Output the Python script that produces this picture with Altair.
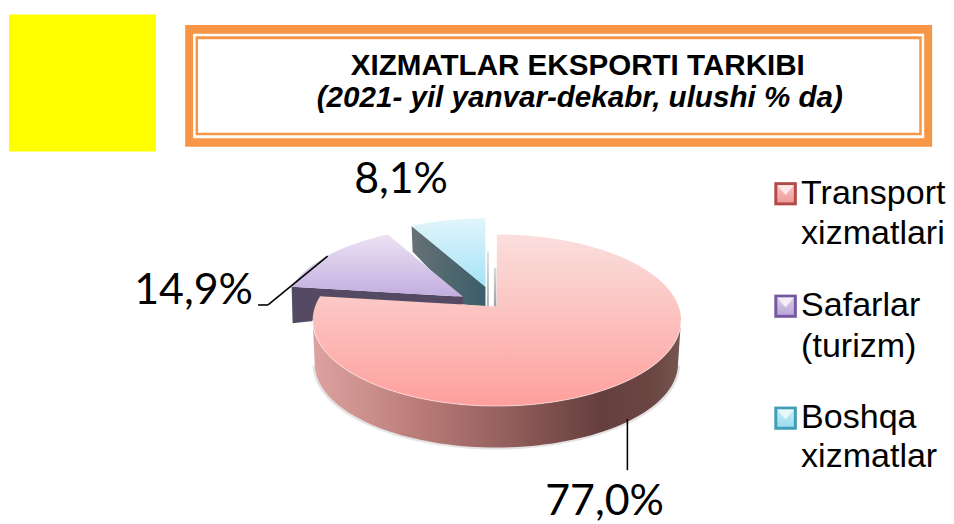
import math
import altair as alt
import pandas as pd

# ---- content ----
shares = [77.0, 14.9, 8.1]
share_labels = ["77,0%", "14,9%", "8,1%"]
legend_lines = [["Transport", "xizmatlari"], ["Safarlar", "(turizm)"], ["Boshqa", "xizmatlar"]]
title_lines = ["XIZMATLAR EKSPORTI TARKIBI", "(2021- yil yanvar-dekabr, ulushi % da)"]

# ---- layout (page pixels) ----
W, H = 946, 516
OFF = 8
XFIX = 1.0064  # the photographed page comes out slightly narrower than drawn
CX, CY, RX, RY = 497.5, 321.0, 185.5, 87.0
V0 = 0.16  # perspective shift of the pie centre
EXPLODE = [(0, 0, 1.0), (-34, -10, 0.97), (-11.5, -20, 0.95)]


def sx(x):
    return (x - OFF) * XFIX


def gradient(stops, horizontal=False):
    return alt.LinearGradient(
        gradient="linear",
        stops=[alt.GradientStop(color=c, offset=o) for o, c in stops],
        x1=0, y1=0,
        x2=1 if horizontal else 0,
        y2=0 if horizontal else 1,
    )


def apex(dx=0, dy=0):
    return (CX + dx, CY + dy - RY * V0)


def project(theta, dx=0, dy=0, k=1.0):
    u, v = math.sin(theta), math.cos(theta)
    d = 1 + V0 * v
    up = u * math.sqrt(1 - V0 * V0) / d
    vp = (v + V0) / d
    ax, ay = apex(dx, dy)
    x = CX + dx + RX * up
    y = CY + dy - RY * vp
    return (ax + (x - ax) * k, ay + (y - ay) * k)


def slice_poly(start_pct, end_pct, dx, dy, k=1.0):
    n = max(8, int((end_pct - start_pct) * 2))
    pts = [apex(dx, dy)]
    for i in range(n + 1):
        p = start_pct + (end_pct - start_pct) * i / n
        pts.append(project(2 * math.pi * p / 100, dx, dy, k))
    pts.append(apex(dx, dy))
    return pts


def feature(pts, closed=True, fix=True):
    coords = [[round(sx(x) + OFF if fix else x, 2), round(y, 2)] for x, y in pts]
    geom = {"type": "Polygon", "coordinates": [coords]} if closed else {"type": "LineString", "coordinates": coords}
    return {"type": "Feature", "properties": {}, "geometry": geom}


def shape(pts, fill, opacity=1.0, fix=True):
    return alt.Chart(alt.Data(values=[feature(pts, fix=fix)])).mark_geoshape(
        fill=fill, strokeOpacity=0, fillOpacity=opacity
    )


def rect(x0, y0, x1, y1, fill):
    return alt.Chart(pd.DataFrame({"k": [0]})).mark_rect(fill=fill).encode(
        x=alt.value(sx(x0)), x2=alt.value(sx(x1)), y=alt.value(y0 - OFF), y2=alt.value(y1 - OFF)
    )


def rule(x0, y0, x1, y1, color="#000000", w=1.6):
    return alt.Chart(pd.DataFrame({"k": [0]})).mark_rule(color=color, strokeWidth=w).encode(
        x=alt.value(sx(x0)), x2=alt.value(sx(x1)), y=alt.value(y0 - OFF), y2=alt.value(y1 - OFF)
    )


def text(s, x, y, size, font="Liberation Sans", align="left", **kw):
    return alt.Chart(pd.DataFrame({"t": [s]})).mark_text(
        font=font, fontSize=size, align=align, baseline="alphabetic", color="#000000",
        x=sx(x), y=y - OFF, **kw
    ).encode(text="t:N")


layers = []
# full canvas extent keeps the identity projection at 1:1 pixels
layers.append(shape([(OFF, OFF), (OFF + W, OFF), (OFF + W, OFF + H), (OFF, OFF + H), (OFF, OFF)], "#ffffff", 0.0, fix=False))

# yellow block and title frame
layers.append(rect(6, 11, 154, 150, "#FFFF00"))
layers.append(rect(183.5, 21.7, 936, 145, "#F79646"))
layers.append(rect(191.5, 30.5, 928, 136.5, "#FFFFFF"))
layers.append(rect(194, 33, 925.5, 133.5, "#F79646"))
layers.append(rect(196.5, 36, 923, 131, "#FFFFFF"))
layers.append(text(title_lines[0], 579, 72, 30, align="center", fontWeight="bold"))
layers.append(text(title_lines[1], 581, 105, 30, align="center", fontWeight="bold", fontStyle="italic"))

# cut points of the slices
p1 = shares[0]
p2 = shares[0] + shares[1]

m_dx, m_dy, m_k = EXPLODE[1]
m_left = project(2 * math.pi * p1 / 100, m_dx, m_dy, m_k)
m_apex = apex(m_dx, m_dy)

# cyan slice: wall then top
c_dx, c_dy, c_k = EXPLODE[2]
c_left = project(2 * math.pi * p2 / 100, c_dx, c_dy, c_k)
c_apex = apex(c_dx, c_dy)
layers.append(shape(
    [c_left, c_apex, (c_apex[0], c_apex[1] + 20), (m_apex[0], m_apex[1] + 8), (c_left[0] + 1, c_left[1] + 26), c_left],
    gradient([(0, "#667176"), (1, "#3B5E68")], True),
))
layers.append(rect(487.5, 251, 489.5, 307, gradient([(0, "#E0E0E0"), (1, "#A8B0B3")])))
layers.append(shape(slice_poly(p2, 100, c_dx, c_dy, c_k), gradient([(0, "#E2F5FB"), (1, "#A3E3F6")])))

# purple slice: wall then top
layers.append(shape(
    [m_left, m_apex, (m_apex[0], m_apex[1] + 8), (m_left[0] + 1, m_left[1] + 37), m_left],
    "#554A63",
))
layers.append(shape(slice_poly(p1, p2, m_dx, m_dy, m_k), gradient([(0, "#ECE2F3"), (1, "#C3AEE0")])))

# red slice: soft shadow, wall, top, rim highlight
BCX, BCY, BRX, BRY = 497, 365, 183, 85
n = 80
front = [(CX + RX * math.cos(math.pi * i / n), CY + RY * math.sin(math.pi * i / n)) for i in range(n + 1)]
back = [(BCX + BRX * math.cos(math.pi * i / n), BCY + BRY * math.sin(math.pi * i / n)) for i in range(n, -1, -1)]
shadow = [(BCX + (BRX + 2) * math.cos(math.pi * i / n), BCY + 1.5 + (BRY + 0.5) * math.sin(math.pi * i / n)) for i in range(n + 1)]
layers.append(shape(shadow + [shadow[0]], "#808080", 0.22))
layers.append(rect(494.5, 268, 497, 307, gradient([(0, "#D8D8D8"), (1, "#A0A0A0")])))
layers.append(shape(front + back + [front[0]], gradient([
    (0, "#DDA3A0"), (0.3, "#B87A77"), (0.55, "#8F5C59"), (0.78, "#653F3E"), (0.92, "#6B4643"), (1, "#775650")
], True)))
layers.append(shape(slice_poly(0, p1, 0, 0), gradient([
    (0, "#FADFDD"), (0.55, "#FCBDBA"), (1, "#FF9F9C")
])))
rim = [project(t, 0, 0) for t in [math.pi * (0.55 + 0.9 * i / 60) for i in range(61)]]
layers.append(alt.Chart(alt.Data(values=[feature(rim, closed=False)])).mark_geoshape(
    filled=False, stroke="#FFFFFF", strokeWidth=1, strokeOpacity=0.55
))

# leader lines
layers.append(rule(257, 305.5, 267, 305.5))
layers.append(rule(267, 305.5, 327, 256))
layers.append(rule(629, 421, 629, 473))

# value labels
LABEL_FONT = "Lato"
layers.append(text(share_labels[0], 606, 518, 43.5, font=LABEL_FONT, align="center"))
layers.append(text(share_labels[1], 192, 305, 43.5, font=LABEL_FONT, align="center"))
layers.append(text(share_labels[2], 401, 192, 43.5, font=LABEL_FONT, align="center"))

# legend
SW_TOP = [181, 295, 408.5]
SW_BORDER = ["#B04B49", "#7558A0", "#3F9DB8"]
SW_FILL = [("#F7C4C2", "#EE9C9A"), ("#DCD0EA", "#BBA6D6"), ("#C8EDF6", "#99DDEE")]
SW_LIGHT = ["#FCE9E8", "#F3EEF8", "#EAF8FC"]
LINE_BASE = [(203, 244), (317, 358), (430, 470)]
for top, border, (c0, c1), light, lines, bases in zip(SW_TOP, SW_BORDER, SW_FILL, SW_LIGHT, legend_lines, LINE_BASE):
    layers.append(rect(777, top, 799.7, top + 23.5, border))
    layers.append(rect(780, top + 3, 796.7, top + 20.5, gradient([(0, c0), (1, c1)])))
    layers.append(shape([(780, top + 3), (796.7, top + 3), (788.3, top + 13), (780, top + 3)], light))
    for s, b in zip(lines, bases):
        layers.append(text(s, 804, b, 34.5))

chart = alt.layer(*layers).project(type="identity").properties(
    width=W, height=H, padding=0
).configure_view(stroke=None)

chart.save("out.html", embed_options={"renderer": "svg", "actions": False})
